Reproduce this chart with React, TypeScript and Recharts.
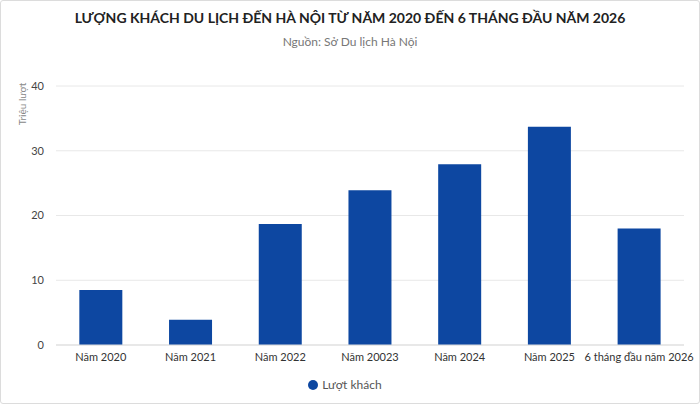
import { BarChart, Bar, XAxis, YAxis, CartesianGrid, Legend } from "recharts";

const categories = [
  "Năm 2020",
  "Năm 2021",
  "Năm 2022",
  "Năm 20023",
  "Năm 2024",
  "Năm 2025",
  "6 tháng đầu năm 2026",
];
const visitors = [8.5, 3.9, 18.7, 23.9, 27.9, 33.7, 18.0];
const yTicks = [0, 10, 20, 30, 40];

const data = categories.map((name, i) => ({ name, visitors: visitors[i] }));

const FONT = "Lato, 'Noto Sans', sans-serif";

export default function App() {
  return (
    <div
      style={{
        position: "absolute",
        top: 0,
        left: 0,
        width: 700,
        height: 404,
        background: "#fff",
        fontFamily: FONT,
      }}
    >
      <div
        style={{
          position: "absolute",
          top: 9,
          left: 0,
          width: 700,
          textAlign: "center",
          fontSize: 14,
          fontWeight: 700,
          color: "#222",
        }}
      >
        LƯỢNG KHÁCH DU LỊCH ĐẾN HÀ NỘI TỪ NĂM 2020 ĐẾN 6 THÁNG ĐẦU NĂM 2026
      </div>
      <div
        style={{
          position: "absolute",
          top: 34,
          left: 0,
          width: 700,
          textAlign: "center",
          fontSize: 12,
          color: "#777",
        }}
      >
        Nguồn: Sở Du lịch Hà Nội
      </div>
      <BarChart
        width={700}
        height={404}
        data={data}
        margin={{ top: 86, right: 16, left: 16, bottom: 12 }}
        barCategoryGap="26%"
        style={{ fontFamily: FONT }}
      >
        <CartesianGrid vertical={false} stroke="#e8e8e8" />
        <XAxis
          dataKey="name"
          height={28}
          tickLine={false}
          axisLine={{ stroke: "#dddddd" }}
          tick={{ fill: "#333", fontSize: 11 }}
          interval={0}
        />
        <YAxis
          width={40}
          domain={[0, 40]}
          ticks={yTicks}
          tickLine={false}
          axisLine={false}
          tickMargin={6}
          tick={{ fill: "#444", fontSize: 11 }}
          label={{
            content: ({ viewBox }: any) => (
              <text
                x={viewBox.x + 6}
                y={viewBox.y + 18}
                transform={`rotate(-90 ${viewBox.x + 6} ${viewBox.y + 18})`}
                textAnchor="middle"
                dominantBaseline="central"
                fontSize={10}
                fill="#888"
              >
                Triệu lượt
              </text>
            ),
          }}
        />
        <Legend
          verticalAlign="bottom"
          iconType="circle"
          iconSize={10}
          formatter={(value) => (
            <span style={{ color: "#555", fontSize: 12 }}>{value}</span>
          )}
        />
        <Bar
          dataKey="visitors"
          name="Lượt khách"
          fill="#0D47A1"
          isAnimationActive={false}
        />
      </BarChart>
      <div
        style={{
          position: "absolute",
          top: 0,
          left: 0,
          width: 700,
          height: 404,
          boxSizing: "border-box",
          border: "1px solid #dcdcdc",
          borderRadius: 3,
          pointerEvents: "none",
        }}
      />
    </div>
  );
}
